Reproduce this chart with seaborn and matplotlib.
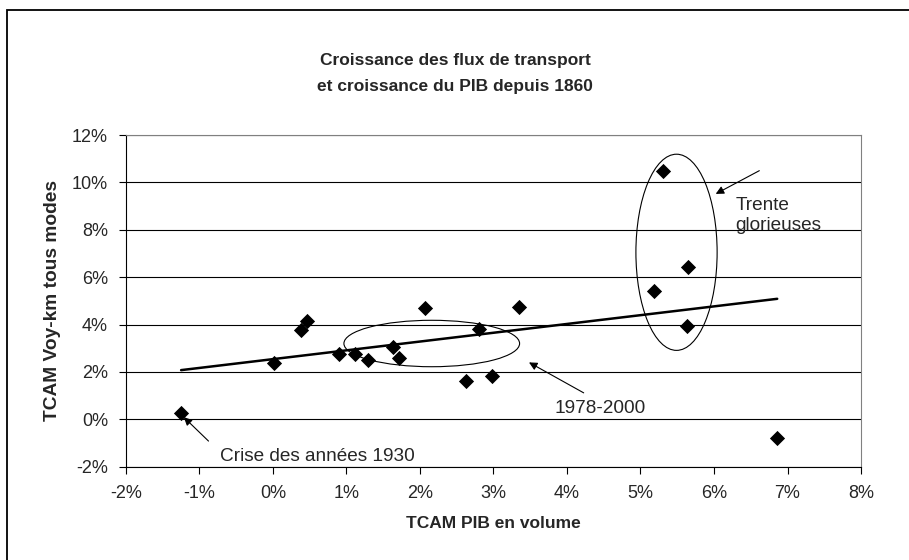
import numpy as np
import pandas as pd
import matplotlib.pyplot as plt
from matplotlib.patches import Ellipse, Rectangle
from matplotlib.ticker import FuncFormatter
import seaborn as sns

sns.set_style("white")
plt.rcParams["font.family"] = ["Liberation Sans", "DejaVu Sans"]

# ── données (TCAM en %) ───────────────────────────────────────────────────────
pib = [-1.25, 0.01, 0.385, 0.46, 0.90, 1.12, 1.29, 1.63, 1.71, 2.07,
       2.62, 2.80, 2.98, 3.35, 5.31, 5.64, 5.18, 5.63, 6.86]
voykm = [0.27, 2.37, 3.76, 4.16, 2.77, 2.75, 2.50, 3.05, 2.58, 4.68,
         1.60, 3.82, 1.82, 4.72, 10.50, 6.45, 5.40, 3.94, -0.80]
x_ticks = list(range(-2, 9))
y_ticks = list(range(-2, 13, 2))

df = pd.DataFrame({"pib": pib, "voykm": voykm})

fig = plt.figure(figsize=(9.09, 5.6), dpi=100)
ax = fig.add_axes([0.1386, 0.1666, 0.8086, 0.5923])

# bordure du graphique
fig.patches.append(Rectangle((7/909, -0.05), 1.1, 1 - 10/560 + 0.05,
                             transform=fig.transFigure, fill=False,
                             edgecolor="black", linewidth=1.3))

for yv in y_ticks:
    ax.axhline(yv, color="black", linewidth=0.8, zorder=0)

sns.regplot(data=df, x="pib", y="voykm", scatter=False, ci=None, ax=ax,
            line_kws={"color": "black", "linewidth": 1.8})
sns.scatterplot(data=df, x="pib", y="voykm", marker="D", s=60, color="black",
                linewidth=0, ax=ax, zorder=3)

ax.add_patch(Ellipse((2.16, 3.20), 2.39, 1.96, fill=False, edgecolor="black", linewidth=0.8))
ax.add_patch(Ellipse((5.49, 7.05), 1.105, 8.28, fill=False, edgecolor="black", linewidth=0.8))

arrow = dict(arrowstyle="-|>", color="black", linewidth=0.8, mutation_scale=12)
ax.annotate("", xy=(-1.24, 0.17), xytext=(-0.85, -1.0), arrowprops=arrow)
ax.text(-0.72, -1.59, "Crise des années 1930", fontsize=13.7, va="center", ha="left")
ax.annotate("", xy=(3.45, 2.46), xytext=(4.26, 1.06), arrowprops=arrow)
ax.text(4.45, 0.45, "1978-2000", fontsize=13.7, va="center", ha="center")
ax.annotate("", xy=(5.99, 9.46), xytext=(6.65, 10.55), arrowprops=arrow)
ax.text(6.29, 8.61, "Trente\nglorieuses", fontsize=13.7, va="center", ha="left",
        linespacing=1.2)

ax.set_xlim(-2, 8)
ax.set_ylim(-2, 12)
ax.set_xticks(x_ticks)
ax.set_yticks(y_ticks)
pct = FuncFormatter(lambda v, _: f"{v:.0f}%")
ax.xaxis.set_major_formatter(pct)
ax.yaxis.set_major_formatter(pct)
ax.tick_params(axis="both", direction="out", length=5, width=0.8, color="black",
               labelsize=13, pad=8, bottom=True, left=True)
for side in ["left", "bottom"]:
    ax.spines[side].set_color("black")
    ax.spines[side].set_linewidth(0.8)
for side in ["top", "right"]:
    ax.spines[side].set_color("#808080")
    ax.spines[side].set_linewidth(0.8)

ax.set_xlabel("TCAM PIB en volume", fontsize=12.5, fontweight="bold", labelpad=10)
ax.set_ylabel("TCAM Voy-km tous modes", fontsize=13.8, fontweight="bold", labelpad=8)

fig.text(455/909, 1 - 60/560, "Croissance des flux de transport", ha="center",
         va="center", fontsize=12.5, fontweight="bold")
fig.text(455/909, 1 - 86/560, "et croissance du PIB depuis 1860", ha="center",
         va="center", fontsize=12.5, fontweight="bold")

plt.savefig("out.png", dpi=100)
plt.close()
